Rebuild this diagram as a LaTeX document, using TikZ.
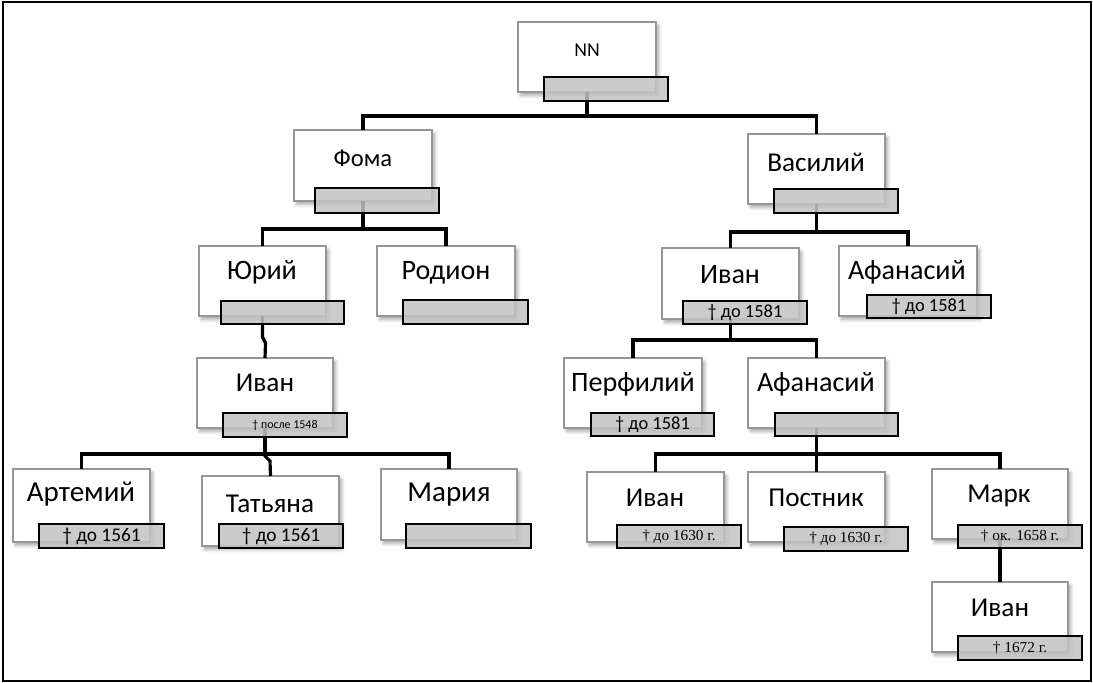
\documentclass[tikz,border=0pt]{standalone}
\usepackage{fontspec}
\setmainfont{Carlito}
\newfontfamily\tms{Liberation Serif}
\usetikzlibrary{shadows.blur}
\tikzset{
  wbox/.style={draw={rgb,255:red,150;green,150;blue,150}, line width=0.6pt, fill=white,
    inner sep=0pt, outer sep=0pt, anchor=north west,
    blur shadow={shadow xshift=1.5pt, shadow yshift=-2pt, shadow blur steps=6, shadow opacity=35}},
  gbox/.style={draw=black, line width=1.3pt, fill={rgb,255:red,195;green,195;blue,195},
    fill opacity=0.85, text opacity=1, inner sep=0pt, outer sep=0pt, anchor=north west},
  conn/.style={draw=black, line width=1.8pt},
  nametext/.style={font=\fontsize{#1}{#1}\selectfont, inner sep=0pt},
  frame/.style={draw=black, line width=0.7pt},
}
\newcommand\wb[5]{\node[wbox, minimum width={(#4-#2)*0.02cm}, minimum height={(#5-#3)*0.02cm}] (#1) at (#2,#3) {};}
\newcommand\gb[6]{\node[gbox, minimum width={(#4-#2)*0.02cm}, minimum height={(#5-#3)*0.02cm}] (#1) at (#2,#3) {#6};}
\newcommand\cf[1]{\fontsize{#1}{#1}\selectfont}
\newcommand\tf[1]{\tms\fontsize{#1}{#1}\selectfont}
\begin{document}
\begin{tikzpicture}[x=0.02cm,y=-0.02cm]
\useasboundingbox (0,0) rectangle (1093,683);
\draw[frame] (3,2) rectangle (1091,681);

% white boxes
\wb{nn}{518}{22}{656}{92}
\wb{foma}{294}{130}{432}{201}
\wb{vas}{748}{134}{885}{204}
\wb{yuri}{199}{246}{326}{316}
\wb{rod}{377}{246}{515}{316}
\wb{ivanL}{197}{358}{333}{428}
\wb{art}{13}{469}{150}{542}
\wb{tat}{202}{476}{339}{546}
\wb{mar}{381}{469}{517}{540}
\wb{ivanR}{662}{248}{799}{319}
\wb{afanA}{839}{246}{977}{316}
\wb{perf}{564}{358}{702}{428}
\wb{afanB}{748}{358}{885}{428}
\wb{ivanC}{587}{472}{724}{542}
\wb{post}{748}{472}{885}{542}
\wb{mark}{932}{469}{1068}{539}
\wb{ivanD}{932}{582}{1068}{652}

% names
\node[nametext=11.2] (nnT) at (587,50) {NN};
\node[nametext=14] (fomaT) at (363,158) {Фома};
\node[nametext=15.5] (vasT) at (816,162) {Василий};
\node[nametext=16] (yuriT) at (262,272) {Юрий};
\node[nametext=16] (rodT) at (446,273) {Родион};
\node[nametext=15.5] (ivanLT) at (265,383) {Иван};
\node[nametext=16.5] (artT) at (81,494) {Артемий};
\node[nametext=15.5] (tatT) at (270,504) {Татьяна};
\node[nametext=16.5] (marT) at (449,495) {Мария};
\node[nametext=16] (ivanRT) at (730,275) {Иван};
\node[nametext=16] (afanAT) at (907,272) {Афанасий};
\node[nametext=16] (perfT) at (633,384) {Перфилий};
\node[nametext=16] (afanBT) at (816,384) {Афанасий};
\node[nametext=15.5] (ivanCT) at (655,498) {Иван};
\node[nametext=15.5] (postT) at (816,498) {Постник};
\node[nametext=15.5] (markT) at (999,496) {Марк};
\node[nametext=15.5] (ivanDT) at (1000,608) {Иван};

% connectors
\coordinate (j1) at (587,116);
\draw[conn] (nn.south) -- (j1) -| (foma.north);
\draw[conn] (j1) -| (vas.north);
\coordinate (j2) at (363,229);
\draw[conn] (foma.south) -- (j2) -| (yuri.north);
\draw[conn] (j2) -| (rod.north);
\coordinate (j3) at (816.5,232);
\draw[conn] (vas.south) -- (j3) -| (ivanR.north);
\draw[conn] (j3) -| (afanA.north);
\draw[conn] (yuri.south) -- ++(0,21) -- ++(3,6) -- (ivanL.north);
\coordinate (j5) at (265,454);
\draw[conn] (ivanL.south) -- (j5) -| (art.north);
\draw[conn] (j5) -| (mar.north);
\draw[conn] (j5) -- ++(0,2) -- ++(5,5) -- (tat.north);
\coordinate (j6) at (730.5,340);
\draw[conn] (ivanR.south) -- (j6) -| (perf.north);
\draw[conn] (j6) -| (afanB.north);
\coordinate (j7) at (816.5,454);
\draw[conn] (afanB.south) -- (j7) -| (ivanC.north);
\draw[conn] (j7) -- (post.north);
\draw[conn] (j7) -| (mark.north);
\draw[conn] (mark.south) -- (ivanD.north);

% grey date boxes
\gb{nnG}{544}{77}{668}{101}{}
\gb{fomaG}{315}{188}{439}{213}{}
\gb{vasG}{774}{189}{898}{213}{}
\gb{yuriG}{221}{301}{344}{324}{}
\gb{rodG}{403}{300}{528}{324}{}
\gb{ivanLG}{223}{413}{347}{437}{\cf{6.8}† после 1548}
\gb{artG}{39}{524}{164}{548}{\cf{11}† до 1561}
\gb{tatG}{219}{524}{343}{548}{\cf{11}† до 1561}
\gb{marG}{406}{524}{531}{548}{}
\gb{ivanRG}{683}{301}{807}{324}{\cf{10.5}† до 1581}
\gb{afanAG}{867}{295}{991}{318}{\cf{10.5}† до 1581}
\gb{perfG}{591}{413}{714}{436}{\cf{10.5}† до 1581}
\gb{afanBG}{775}{413}{898}{436}{}
\gb{ivanCG}{617}{525}{741}{548}{\tf{8.7}† до 1630 г.}
\gb{postG}{784}{527}{908}{551}{\tf{8.7}† до 1630 г.}
\gb{markG}{958}{525}{1082}{548}{\tf{8.7}† ок. 1658 г.}
\gb{ivanDG}{958}{636}{1082}{660}{\tf{8.7}† 1672 г.}
\end{tikzpicture}
\end{document}
